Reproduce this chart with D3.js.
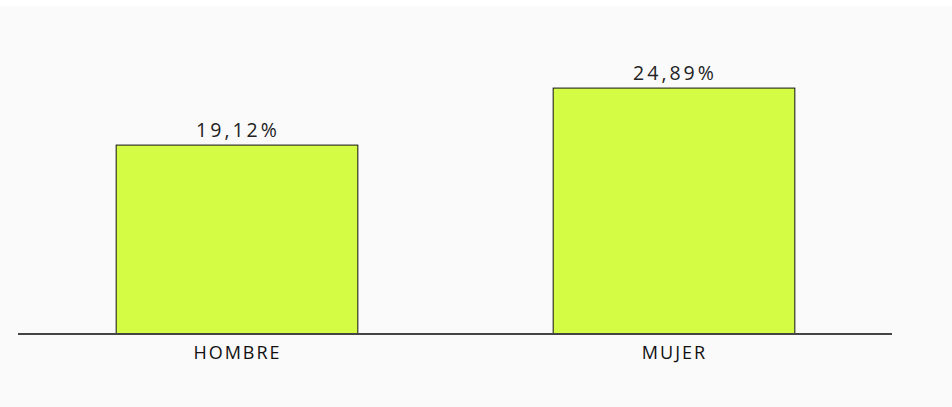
<!DOCTYPE html>
<html>
<head>
<meta charset="utf-8">
<script src="https://d3js.org/d3.v7.min.js"></script>
<style>
  body { margin: 0; background: #ffffff; }
  svg { display: block; }
</style>
</head>
<body>
<script>
var categories = ["HOMBRE", "MUJER"];
var values = [19.12, 24.89];
var valueLabels = ["19,12%", "24,89%"];

var width = 952, height = 407;

var svg = d3.select("body").append("svg")
  .attr("width", width)
  .attr("height", height);

svg.append("rect")
  .attr("x", 0).attr("y", 6)
  .attr("width", width).attr("height", height - 6)
  .attr("fill", "#fafafa");

var x = d3.scaleBand()
  .domain(categories)
  .range([18, 892])
  .paddingInner(0.447)
  .paddingOuter(0.2235);

var y = d3.scaleLinear()
  .domain([0, 30])
  .range([333.5, 37.1]);

var data = categories.map(function(c, i) {
  return {cat: c, val: values[i], label: valueLabels[i]};
});

svg.append("g")
  .selectAll("rect")
  .data(data)
  .enter().append("rect")
    .attr("x", d => x(d.cat) + 0.5)
    .attr("y", d => y(d.val) + 0.5)
    .attr("width", x.bandwidth())
    .attr("height", d => y(0) - y(d.val))
    .attr("fill", "#d4fc44")
    .attr("stroke", "#111")
    .attr("stroke-width", 1);

// baseline
svg.append("line")
  .attr("x1", 18).attr("x2", 892)
  .attr("y1", 334).attr("y2", 334)
  .attr("stroke", "#444")
  .attr("stroke-width", 2);

svg.append("g")
  .selectAll("text")
  .data(data)
  .enter().append("text")
    .attr("x", d => x(d.cat) + x.bandwidth() / 2 + 1.5)
    .attr("y", d => y(d.val) - 8)
    .attr("text-anchor", "middle")
    .attr("font-family", "Open Sans, sans-serif")
    .attr("font-size", 19.5)
    .attr("letter-spacing", 3)
    .attr("fill", "#222")
    .text(d => d.label);

svg.append("g")
  .selectAll("text")
  .data(categories)
  .enter().append("text")
    .attr("x", d => x(d) + x.bandwidth() / 2 + 1)
    .attr("y", 359)
    .attr("text-anchor", "middle")
    .attr("font-family", "Open Sans, sans-serif")
    .attr("font-size", 18)
    .attr("letter-spacing", 2)
    .attr("fill", "#111")
    .text(d => d);
</script>
</body>
</html>
